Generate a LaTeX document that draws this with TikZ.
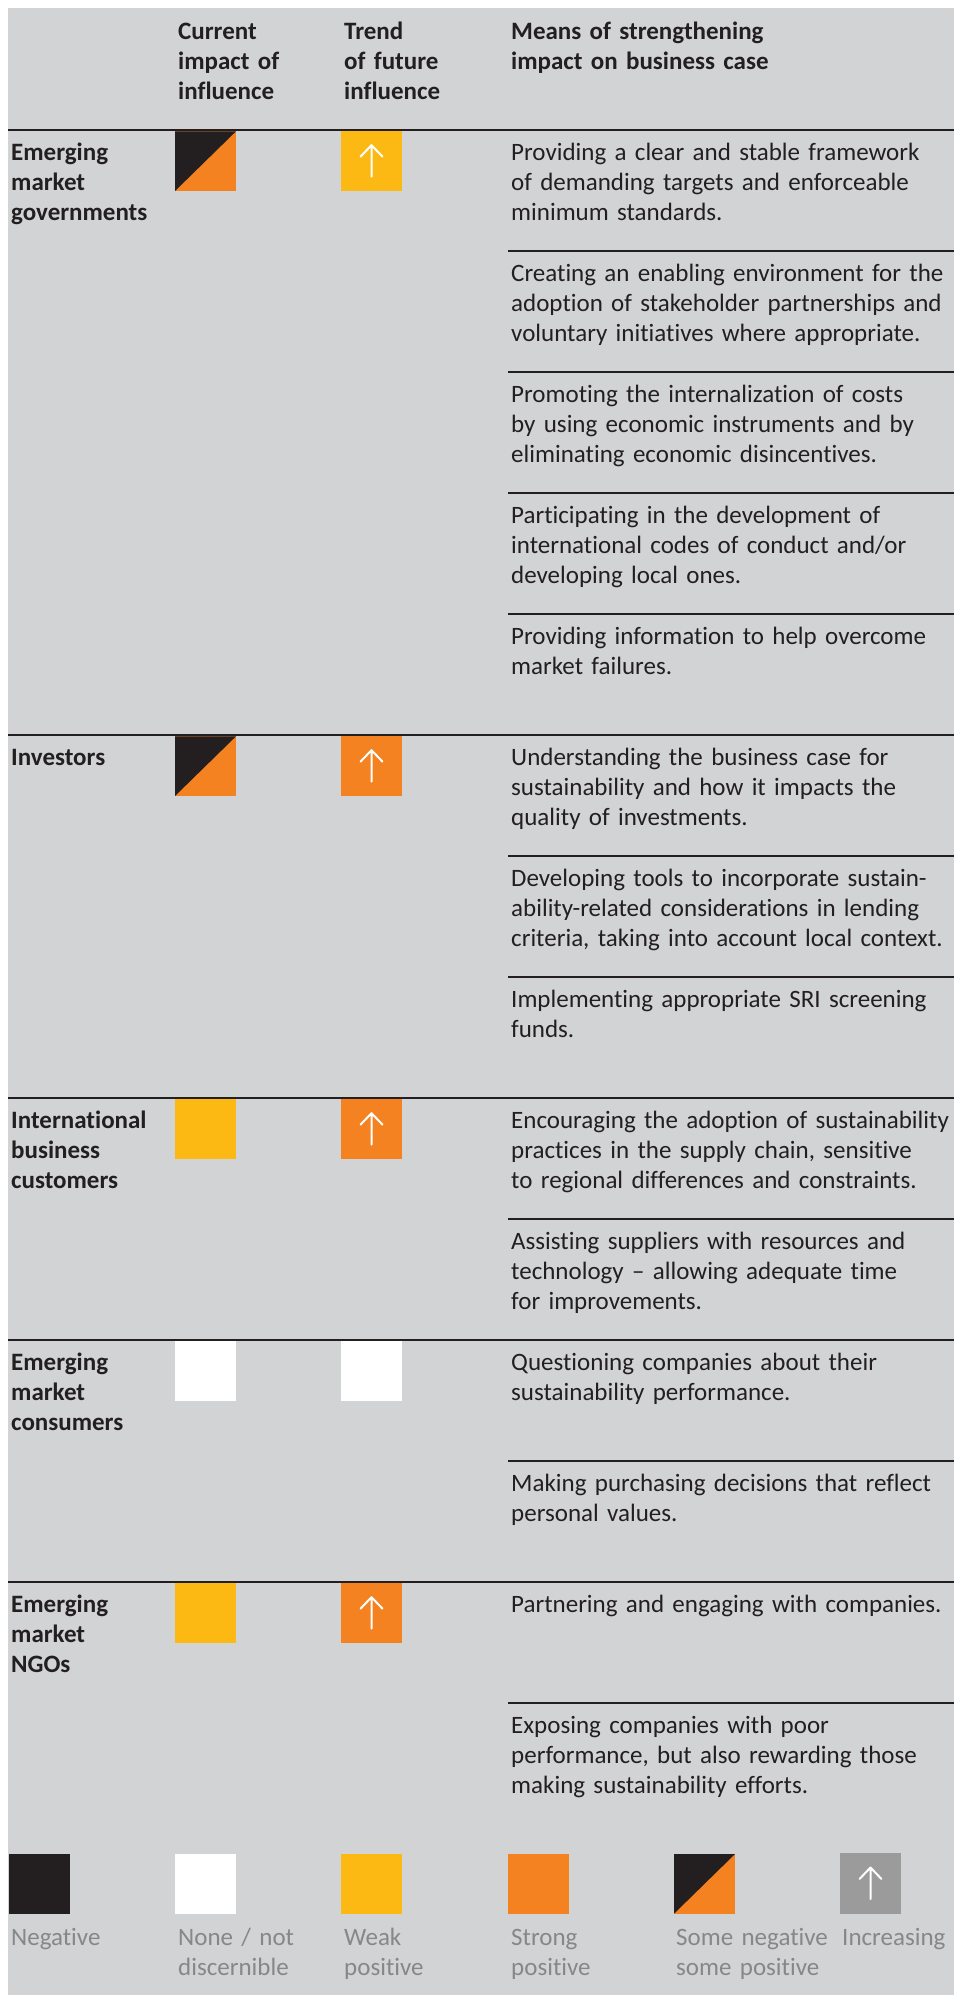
\documentclass[tikz,border=0pt]{standalone}
\usepackage{fontspec}
\setmainfont{Carlito}[Ligatures={NoCommon}]
\usetikzlibrary{calc}
\definecolor{bg}{HTML}{D1D3D4}
\definecolor{ink}{HTML}{231F20}
\definecolor{orng}{HTML}{F58220}
\definecolor{yel}{HTML}{FDB913}
\definecolor{lgray}{HTML}{9B9B9B}
\definecolor{ltext}{HTML}{878787}
\tikzset{
  body/.style={anchor=base west, inner sep=0pt, text width=470pt, align=left,
    font=\fontsize{25pt}{30pt}\selectfont, text=ink},
  head/.style={body, font=\bfseries\fontsize{25pt}{30pt}\selectfont},
  legtext/.style={body, text=ltext, text width=200pt},
  sq/.style={minimum width=61pt, minimum height=59.7pt, inner sep=0pt, anchor=north west, draw=none, outer sep=0pt},
  rulethick/.style={draw=ink, line width=2.7pt},
  rulethin/.style={draw=ink, line width=2.5pt},
  uparr/.pic={\draw[white, line width=2pt, line cap=round, line join=round]
     (0,15.5) -- (0,-16) (-11,-4.5) -- (0,-16) -- (11,-4.5);}
}
\begin{document}
\begin{tikzpicture}[x=1pt,y=-1pt]
\useasboundingbox (0,0) rectangle (954,1995);
\fill[bg] (8,8) rectangle (954,1995);

% header
\node[head] (h2) at (178,39) {Current\\impact of\\influence};
\node[head] (h3) at (344,39) {Trend\\of future\\influence};
\node[head] (h4) at (511,39) {Means of strengthening\\impact on business case};

% thick rules
\foreach \t in {130,735,1098,1340,1582} \draw[rulethick] (8,\t) -- (954,\t);
% thin rules
\foreach \t in {251,372,493,614,856,977,1219,1461,1703} \draw[rulethin] (508,\t) -- (954,\t);

% row labels
\node[head] (l1) at (11,160) {Emerging\\market\\governments};
\node[head] (l2) at (11,765) {Investors};
\node[head] (l3) at (11,1128) {International\\business\\customers};
\node[head] (l4) at (11,1370) {Emerging\\market\\consumers};
\node[head] (l5) at (11,1612) {Emerging\\market\\NGOs};

% squares: governments
\node[sq, fill=orng] (c1) at (175,131.3) {};
\fill[ink] (c1.north west) -- (c1.north east) -- (c1.south west) -- cycle;
\node[sq, fill=yel] (t1) at (341,131.3) {};
\pic at (t1.center) {uparr};
% investors
\node[sq, fill=orng] (c2) at (175,736.3) {};
\fill[ink] (c2.north west) -- (c2.north east) -- (c2.south west) -- cycle;
\node[sq, fill=orng] (t2) at (341,736.3) {};
\pic at (t2.center) {uparr};
% international
\node[sq, fill=yel] (c3) at (175,1099.3) {};
\node[sq, fill=orng] (t3) at (341,1099.3) {};
\pic at (t3.center) {uparr};
% consumers
\node[sq, fill=white] (c4) at (175,1341.3) {};
\node[sq, fill=white] (t4) at (341,1341.3) {};
% NGOs
\node[sq, fill=yel] (c5) at (175,1583.3) {};
\node[sq, fill=orng] (t5) at (341,1583.3) {};
\pic at (t5.center) {uparr};

% texts
\node[body] (m0) at (511,160) {Providing a clear and stable framework\\of demanding targets and enforceable\\minimum standards.};
\node[body] (m1) at (511,281) {Creating an enabling environment for the\\adoption of stakeholder partnerships and\\voluntary initiatives where appropriate.};
\node[body] (m2) at (511,402) {Promoting the internalization of costs\\by using economic instruments and by\\eliminating economic disincentives.};
\node[body] (m3) at (511,523) {Participating in the development of\\international codes of conduct and/or\\developing local ones.};
\node[body] (m4) at (511,644) {Providing information to help overcome\\market failures.};
\node[body] (m5) at (511,765) {Understanding the business case for\\sustainability and how it impacts the\\quality of investments.};
\node[body] (m6) at (511,886) {Developing tools to incorporate sustain-\\ability-related considerations in lending\\criteria, taking into account local context.};
\node[body] (m7) at (511,1007) {Implementing appropriate SRI screening\\funds.};
\node[body] (m8) at (511,1128) {Encouraging the adoption of sustainability\\practices in the supply chain, sensitive\\to regional differences and constraints.};
\node[body] (m9) at (511,1249) {Assisting suppliers with resources and\\technology – allowing adequate time\\for improvements.};
\node[body] (m10) at (511,1370) {Questioning companies about their\\sustainability performance.};
\node[body] (m11) at (511,1491) {Making purchasing decisions that reflect\\personal values.};
\node[body] (m12) at (511,1612) {Partnering and engaging with companies.};
\node[body] (m13) at (511,1733) {Exposing companies with poor\\performance, but also rewarding those\\making sustainability efforts.};

% legend
\node[sq, fill=ink] (k1) at (9,1854) {};
\node[sq, fill=white] (k2) at (175,1854) {};
\node[sq, fill=yel] (k3) at (341,1854) {};
\node[sq, fill=orng] (k4) at (508,1854) {};
\node[sq, fill=orng] (k5) at (674,1854) {};
\fill[ink] (k5.north west) -- (k5.north east) -- (k5.south west) -- cycle;
\node[sq, fill=lgray, minimum height=61pt] (k6) at (840,1853) {};
\pic at (k6.center) {uparr};

\node[legtext] (g1) at (11,1945) {Negative};
\node[legtext] (g2) at (178,1945) {None / not\\discernible};
\node[legtext] (g3) at (344,1945) {Weak\\positive};
\node[legtext] (g4) at (511,1945) {Strong\\positive};
\node[legtext] (g5) at (676,1945) {Some negative\\some positive};
\node[legtext] (g6) at (842,1945) {Increasing};
\end{tikzpicture}
\end{document}
